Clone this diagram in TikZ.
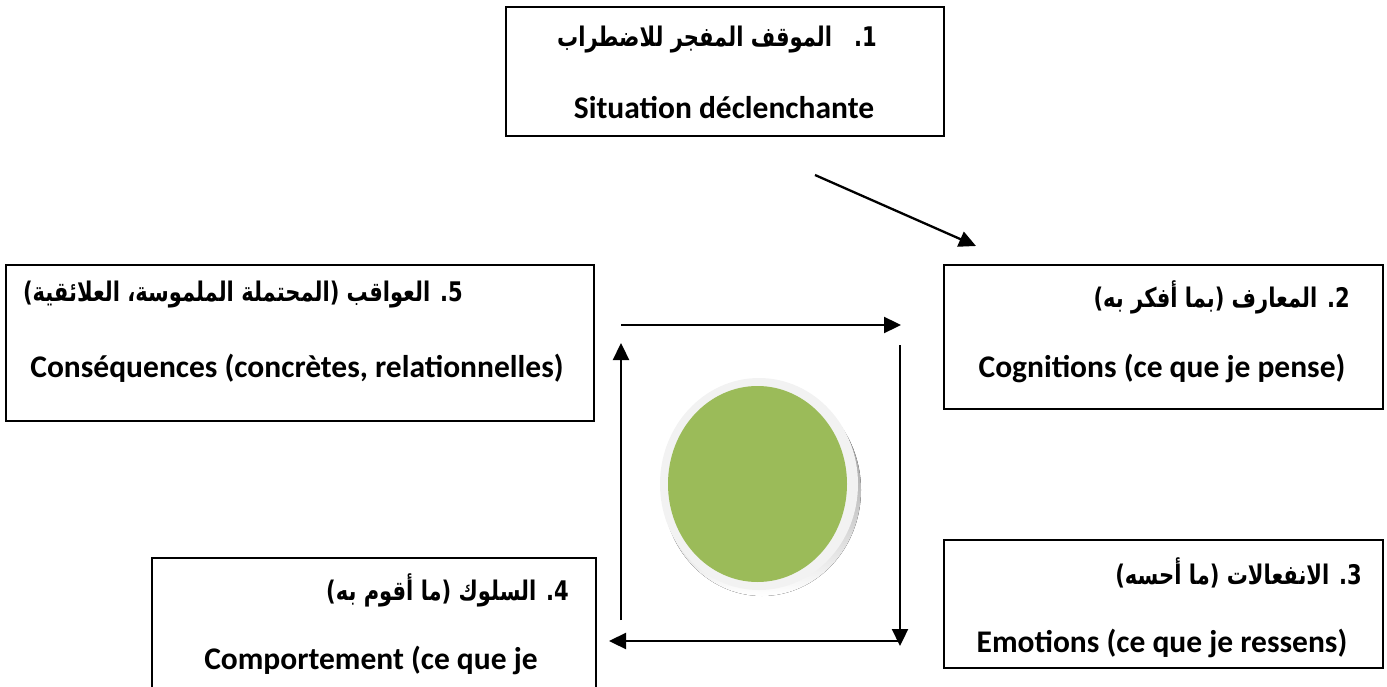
\documentclass[tikz,border=0pt]{standalone}
\usepackage{fontspec}
\setmainfont{Carlito}
\newfontfamily\arabicfont[Script=Arabic,FakeStretch=0.78]{DejaVu Sans}
\TeXXeTstate=1
\usetikzlibrary{arrows.meta,shapes.geometric}
\definecolor{olive}{HTML}{9BBB59}
\definecolor{ringgrey}{HTML}{F2F2F2}
\definecolor{shade}{HTML}{A9B396}
\tikzset{
  stage/.style={draw=black, line width=1.4pt, fill=white},
  latin/.style={font=\fontsize{31.5}{36}\selectfont\bfseries, inner sep=0pt},
  arab/.style={font=\arabicfont\fontsize{27}{32}\selectfont\bfseries, inner sep=0pt, anchor=east},
  flow/.style={line width=2.3pt, -{Triangle[length=17pt,width=16pt]}},
}
\begin{document}
\begin{tikzpicture}[x=1pt,y=-1pt]
\useasboundingbox (0,0) rectangle (1387,687);
\clip (0,0) rectangle (1387,687);

% stage boxes
\draw[stage] (506,7) rectangle (944,136);
\draw[stage] (944,265) rectangle (1383,409);
\draw[stage] (944,540) rectangle (1383,668);
\draw[stage] (152,558) rectangle (596,700);
\draw[stage] (6,265) rectangle (594,421);

% labels
\node[arab] (a1) at (877,40) {\beginR\beginL1.\endL{}\ \ \ الموقف المفجر للاضطراب\endR};
\node[latin] (l1) at (724,108) {Situation déclenchante};
\node[arab] (a2) at (1350,297) {\beginR\beginL2.\endL{} المعارف (بما أفكر به)\endR};
\node[latin] (l2) at (1162,368) {Cognitions (ce que je pense)};
\node[arab] (a3) at (1362,573) {\beginR\beginL3.\endL{} الانفعالات (ما أحسه)\endR};
\node[latin] (l3) at (1162,643) {Emotions (ce que je ressens)};
\node[arab] (a4) at (569,590) {\beginR\beginL4.\endL{} السلوك (ما أقوم به)\endR};
\node[latin] (l4) at (371,660) {Comportement (ce que je};
\node[arab] (a5) at (463,295) {\beginR\beginL5.\endL{} العواقب (المحتملة الملموسة، العلائقية)\endR};
\node[latin] (l5) at (297,368) {Conséquences (concrètes, relationnelles)};

% central disc
\fill[shade] (762,490) ellipse [x radius=99, y radius=106];
\fill[ringgrey] (759,484) ellipse [x radius=99, y radius=106];
\node[ellipse, fill=olive, minimum width=179pt, minimum height=196pt, inner sep=0pt] (core) at (757.5,484) {};

% arrow end points
\coordinate (d0) at (815,175);
\coordinate (d1) at (976,246);
\coordinate (t0) at (621,325);
\coordinate (t1) at (901,325);
\coordinate (r0) at (900,345);
\coordinate (r1) at (900,646);
\coordinate (b0) at (898,641);
\coordinate (b1) at (609,641);
\coordinate (u0) at (621,620);
\coordinate (u1) at (621,343);

\draw[flow] (d0) -- (d1);
\draw[flow] (t0) -- (t1);
\draw[flow] (r0) -- (r1);
\draw[flow] (b0) -- (b1);
\draw[flow] (u0) -- (u1);
\end{tikzpicture}
\end{document}
